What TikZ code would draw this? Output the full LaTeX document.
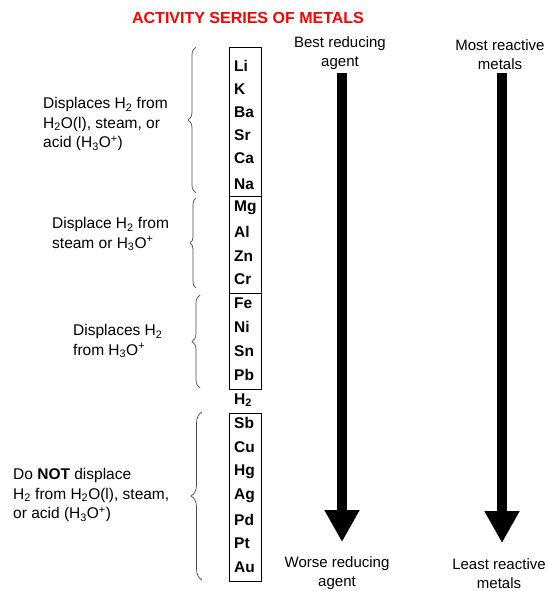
\documentclass[tikz,border=0pt]{standalone}
\usepackage{fontspec}
\setmainfont{Liberation Sans}
\usetikzlibrary{decorations.pathreplacing,arrows.meta}
\begin{document}
\begin{tikzpicture}[x=1pt,y=-1pt,
 el/.style={anchor=west, font=\fontsize{15.5}{17}\selectfont\bfseries, inner sep=0pt},
 lbl/.style={align=center, font=\fontsize{15}{19}\selectfont, inner sep=0pt},
 side/.style={align=left, font=\fontsize{15.5}{19.5}\selectfont, inner sep=0pt, anchor=west},
 grp/.style={draw, line width=0.8pt},
 br/.style={decorate, decoration={brace, amplitude=#1}, draw=black!70, line width=0.7pt},
 bigarrow/.style={line width=10pt, -{Triangle[width=33pt,length=32pt]}}
]
\useasboundingbox (0,0) rectangle (548,591);
% title
\node[font=\fontsize{16}{18}\selectfont\bfseries, text=red, inner sep=0pt] (title) at (248,18) {ACTIVITY SERIES OF METALS};
% group boxes
\draw[grp] (229,47) rectangle (261,196);
\draw[grp] (229,196) rectangle (261,293);
\draw[grp] (229,293) rectangle (261,389);
\draw[grp] (229,413) rectangle (261,581);
% elements
\node[el] (Li) at (234,66) {Li};
\node[el] (K) at (234,89) {K};
\node[el] (Ba) at (234,112) {Ba};
\node[el] (Sr) at (234,135) {Sr};
\node[el] (Ca) at (234,158) {Ca};
\node[el] (Na) at (234,184) {Na};
\node[el] (Mg) at (234,208) {Mg};
\node[el] (Al) at (234,232) {Al};
\node[el] (Zn) at (234,256) {Zn};
\node[el] (Cr) at (234,279) {Cr};
\node[el] (Fe) at (234,303) {Fe};
\node[el] (Ni) at (234,327) {Ni};
\node[el] (Sn) at (234,351) {Sn};
\node[el] (Pb) at (234,375) {Pb};
\node[el] (H2) at (234,400) {H\textsubscript{2}};
\node[el] (Sb) at (234,423) {Sb};
\node[el] (Cu) at (234,447) {Cu};
\node[el] (Hg) at (234,472) {Hg};
\node[el] (Ag) at (234,496) {Ag};
\node[el] (Pd) at (234,520) {Pd};
\node[el] (Pt) at (234,543) {Pt};
\node[el] (Au) at (234,567) {Au};
% braces
\draw[br=8pt] (196,193) -- (196,47);
\draw[br=6pt] (196,288) -- (196,198);
\draw[br=8pt] (200,388) -- (200,295);
\draw[br=11pt] (202,580) -- (202,412);
% side texts
\node[side] (t1) at (43,124) {Displaces H\textsubscript{2} from\\H\textsubscript{2}O(l), steam, or\\acid (H\textsubscript{3}O\textsuperscript{+})};
\node[side] (t2) at (52,234) {Displace H\textsubscript{2} from\\steam or H\textsubscript{3}O\textsuperscript{+}};
\node[side] (t3) at (73,341) {Displaces H\textsubscript{2}\\from H\textsubscript{3}O\textsuperscript{+}};
\node[side] (t4) at (13,495) {Do \textbf{NOT} displace\\H\textsubscript{2} from H\textsubscript{2}O(l), steam,\\or acid (H\textsubscript{3}O\textsuperscript{+})};
% column labels
\node[lbl] (best) at (340,53) {Best reducing\\agent};
\node[lbl] (most) at (500,55) {Most reactive\\metals};
\node[lbl] (worse) at (337,573) {Worse reducing\\agent};
\node[lbl] (least) at (499,574) {Least reactive\\metals};
% arrows
\coordinate (a1s) at (342,73);
\coordinate (a1e) at (342,542);
\coordinate (a2s) at (502,73);
\coordinate (a2e) at (502,543);
\draw[bigarrow] (a1s) -- (a1e);
\draw[bigarrow] (a2s) -- (a2e);
\end{tikzpicture}
\end{document}
